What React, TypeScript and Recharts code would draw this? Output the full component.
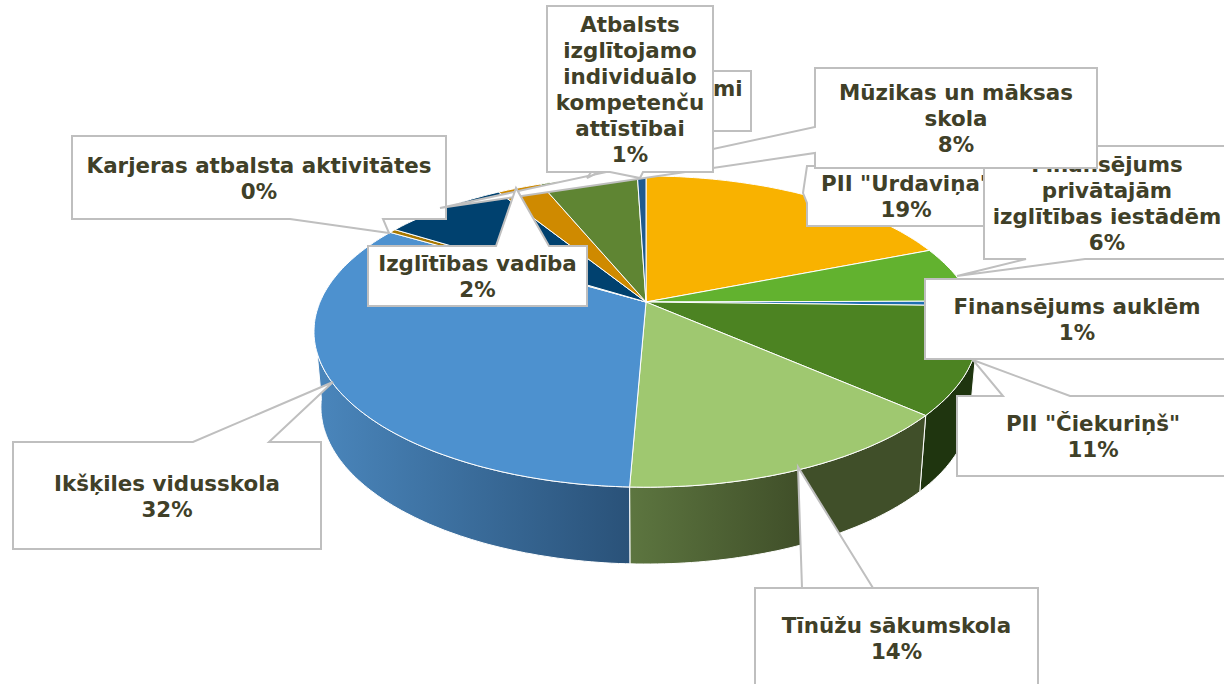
import React from 'react';
import { PieChart, Pie, Cell } from 'recharts';

// clockwise from 12 o'clock
const categories = [
  'PII "Urdaviņa"',
  'Finansējums privātajām izglītības iestādēm',
  'Finansējums auklēm',
  'PII "Čiekuriņš"',
  'Tīnūžu sākumskola',
  'Ikšķiles vidusskola',
  'Karjeras atbalsta aktivitātes',
  'Mūzikas un māksas skola',
  'Izglītības vadība',
  'Citi pasākumi',
  'Atbalsts izglītojamo individuālo kompetenču attīstībai',
];
const shares = [19.0, 5.9, 0.5, 11.1, 14.15, 32.85, 0.4, 7.3, 2.6, 5.7, 0.5];
const percentLabels = ['19%', '6%', '1%', '11%', '14%', '32%', '0%', '8%', '2%', '6%', '1%'];
const labelLines = [
  ['PII "Urdaviņa"'],
  ['Finansējums', 'privātajām', 'izglītības iestādēm'],
  ['Finansējums auklēm'],
  ['PII "Čiekuriņš"'],
  ['Tīnūžu sākumskola'],
  ['Ikšķiles vidusskola'],
  ['Karjeras atbalsta aktivitātes'],
  ['Mūzikas un māksas', 'skola'],
  ['Izglītības vadība'],
  ['Citi pasākumi'],
  ['Atbalsts', 'izglītojamo', 'individuālo', 'kompetenču', 'attīstībai'],
];

const topColors = ['#f9b200', '#62b22f', '#1f6fb0', '#4c8322', '#9fc870', '#4d91cf', '#a87800', '#00416f', '#cf8a00', '#5f8533', '#1f5a8e'];
const wallColors = ['#7a5800', '#30581a', '#123a5c', '#1f350f', 'url(#wallLight)', 'url(#wallBlue)', '#5c4200', '#00233c', '#6e4a00', '#34491c', '#10304c'];

const data = categories.map((name, i) => ({ name, value: shares[i] }));

// label box layout: box, tail base points, tail tip
const callouts = [
  { x: 807, y: 166, w: 198, h: 60, tail: [[807, 203], [803, 193], [807, 166]] },
  { x: 984, y: 146, w: 246, h: 113, tail: [[1085, 259], [957, 276], [1026, 259]] },
  { x: 925, y: 279, w: 304, h: 80, tail: [] },
  { x: 957, y: 396, w: 272, h: 80, tail: [[1003, 396], [973, 360], [1070, 396]] },
  { x: 755, y: 588, w: 283, h: 100, tail: [[873, 588], [798, 467], [802, 588]] },
  { x: 13, y: 442, w: 308, h: 107, tail: [[193, 442], [333, 382], [269, 442]] },
  { x: 72, y: 136, w: 374, h: 83, tail: [[383, 219], [389, 233], [290, 219]] },
  { x: 815, y: 68, w: 282, h: 100, tail: [[815, 153], [440, 208], [815, 127]] },
  { x: 368, y: 246, w: 219, h: 60, tail: [[496, 246], [516, 188], [549, 246]] },
  { x: 570, y: 71, w: 181, h: 60, tail: [[680, 131], [587, 178], [620, 131]] },
  { x: 547, y: 6, w: 166, h: 166, tail: [[643, 172], [640, 178], [610, 172]] },
];

const WIDTH = 1224;
const HEIGHT = 684;
const CX = 646;
const CY = 302;
const RX = 325;
const RY_FACTOR = 150 / 325;
const PERSPECTIVE = 0.19;

// the tilted disc: 0deg at the top, going clockwise
const project = (deg: number, lower: boolean, cx: number, cy: number, r: number) => {
  const rad = (deg * Math.PI) / 180;
  const u = Math.sin(rad);
  const v = -Math.cos(rad);
  const d = 1 - PERSPECTIVE * v;
  if (lower) {
    return [cx + (0.982 * r * u) / d, cy + 75 + (1.01 * RY_FACTOR * r * v) / d];
  }
  return [cx + (1.003 * r * u) / d, cy + (RY_FACTOR * r * v) / d];
};

const arc = (from: number, to: number, lower: boolean, cx: number, cy: number, r: number) => {
  const pts: number[][] = [];
  const step = from < to ? 1 : -1;
  for (let a = from; step > 0 ? a < to : a > to; a += step) pts.push(project(a, lower, cx, cy, r));
  pts.push(project(to, lower, cx, cy, r));
  return pts;
};

const toPath = (pts: number[][]) => 'M' + pts.map((p) => p[0].toFixed(1) + ',' + p[1].toFixed(1)).join('L') + 'Z';

const Slice3D = (props: any) => {
  const { cx, cy, outerRadius, startAngle, endAngle, index } = props;
  const a0 = 90 - startAngle;
  const a1 = 90 - endAngle;
  const w0 = Math.max(a0, 100);
  const w1 = Math.min(a1, 262);
  return (
    <g>
      {w1 > w0 && (
        <path
          d={toPath([...arc(w0, w1, false, cx, cy, outerRadius), ...arc(w1, w0, true, cx, cy, outerRadius)])}
          fill={wallColors[index]}
          stroke="#ffffff"
          strokeWidth={1}
        />
      )}
      <path
        d={toPath([[cx, cy], ...arc(a0, a1, false, cx, cy, outerRadius)])}
        fill={topColors[index]}
        stroke="#ffffff"
        strokeWidth={1}
      />
    </g>
  );
};

// splice the tail points into the box perimeter on the side they sit on
function orderOutline(c: any) {
  const { x, y, w, h, tail } = c;
  const b = tail[0];
  if (b[0] === x) return [[x, y], [x + w, y], [x + w, y + h], [x, y + h], ...tail];
  if (b[1] === y) return [[x, y], ...tail, [x + w, y], [x + w, y + h], [x, y + h]];
  return [[x, y], [x + w, y], [x + w, y + h], ...tail, [x, y + h]];
}

const Callout = (props: any) => {
  const i = props.index;
  const c = callouts[i];
  const lines = [...labelLines[i], percentLabels[i]];
  const { x, y, w, h, tail } = c;
  const outline = tail.length ? orderOutline(c) : [[x, y], [x + w, y], [x + w, y + h], [x, y + h]];
  const first = y + h / 2 - (lines.length - 1) * 13 + 8;
  return (
    <g>
      <path d={toPath(outline)} fill="#ffffff" stroke="#bfbfbf" strokeWidth={2} />
      <text textAnchor="middle" fontFamily="'DejaVu Sans', sans-serif" fontWeight="bold" fontSize={21.4} fill="#404028">
        {lines.map((t, n) => (
          <tspan key={n} x={x + w / 2} y={first + n * 26}>
            {t}
          </tspan>
        ))}
      </text>
    </g>
  );
};

export default function App() {
  return (
    <div style={{ position: 'absolute', left: 0, top: 0, width: WIDTH, height: HEIGHT, overflow: 'hidden', background: '#ffffff' }}>
      <PieChart width={WIDTH} height={HEIGHT} margin={{ top: 0, right: 0, bottom: 0, left: 0 }}>
        <defs>
          <linearGradient id="wallBlue" gradientUnits="userSpaceOnUse" x1={316} y1={0} x2={628} y2={0}>
            <stop offset="0%" stopColor="#4a86bc" />
            <stop offset="100%" stopColor="#2a5279" />
          </linearGradient>
          <linearGradient id="wallLight" gradientUnits="userSpaceOnUse" x1={628} y1={0} x2={800} y2={0}>
            <stop offset="0%" stopColor="#5d7640" />
            <stop offset="100%" stopColor="#404f29" />
          </linearGradient>
        </defs>
        <Pie
          data={data}
          dataKey="value"
          nameKey="name"
          cx={CX}
          cy={CY}
          outerRadius={RX}
          startAngle={90}
          endAngle={-270}
          paddingAngle={0}
          shape={Slice3D}
          label={Callout}
          labelLine={false}
          isAnimationActive={false}
        >
          {data.map((d, i) => (
            <Cell key={d.name} fill={topColors[i]} />
          ))}
        </Pie>
      </PieChart>
    </div>
  );
}
